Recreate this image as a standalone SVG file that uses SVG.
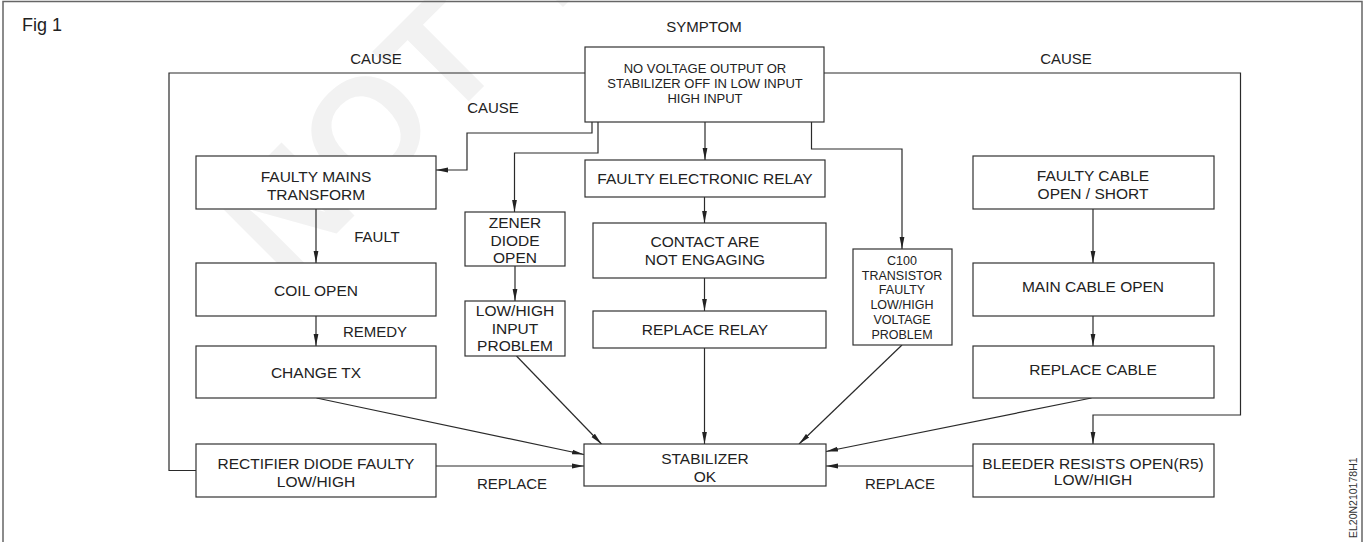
<svg xmlns="http://www.w3.org/2000/svg" width="1365" height="542" viewBox="0 0 1365 542">
  <defs>
    <marker id="arrow" viewBox="0 0 12 6" refX="12" refY="3" markerWidth="12" markerHeight="6" markerUnits="userSpaceOnUse" orient="auto">
      <path d="M0,0.6 L12,3 L0,5.4 Z" fill="#222"/>
    </marker>
    <style>
      .box { fill: #fff; stroke: #333; stroke-width: 1.2; }
      .wire { fill: none; stroke: #2a2a2a; stroke-width: 1.2; }
      .t { font-family: "Liberation Sans", Arial, sans-serif; font-size: 15.5px; fill: #222; text-anchor: middle; }
      .lbl { font-family: "Liberation Sans", Arial, sans-serif; font-size: 15px; fill: #222; text-anchor: middle; }
      .sm { font-size: 13px; }
      .xs { font-size: 12.5px; }
      .mark { font-family: "Liberation Sans", Arial, sans-serif; font-weight: bold; font-size: 150px; fill: #f2f2f2; }
    </style>
  </defs>

  <rect x="0" y="0" width="1365" height="542" fill="#fff"/>
  <!-- watermark -->
  <text class="mark" transform="translate(285,285) rotate(-45)">NOT T</text>

  <!-- frame -->
  <path d="M3,542 V1.5 H1362 V542" fill="none" stroke="#666" stroke-width="1.5"/>

  <text x="22" y="31" font-family="Liberation Sans, Arial, sans-serif" font-size="18" fill="#222">Fig 1</text>

  <!-- labels -->
  <g id="labels">
    <text class="lbl" x="704" y="32">SYMPTOM</text>
    <text class="lbl" x="376" y="64">CAUSE</text>
    <text class="lbl" x="1066" y="64">CAUSE</text>
    <text class="lbl" x="493" y="113">CAUSE</text>
    <text class="lbl" x="377" y="242">FAULT</text>
    <text class="lbl" x="375" y="337">REMEDY</text>
    <text class="lbl" x="512" y="489">REPLACE</text>
    <text class="lbl" x="900" y="489">REPLACE</text>
  </g>

  <!-- connectors -->
  <g id="connectors">
    <path class="wire" d="M585,73 H169 V470.5 H196"/>
    <path class="wire" d="M824,73 H1240.5 V415 H1093 V444" marker-end="url(#arrow)"/>
    <path class="wire" d="M592,122 V133 H467 V170 H436" marker-end="url(#arrow)"/>
    <path class="wire" d="M598,122 V153 H514.5 V212" marker-end="url(#arrow)"/>
    <path class="wire" d="M705,122 V160" marker-end="url(#arrow)" stroke-width="1.5"/>
    <path class="wire" d="M811.5,122 V149 H902 V249" marker-end="url(#arrow)"/>
    <path class="wire" d="M704.5,197 V223" marker-end="url(#arrow)" stroke-width="1.5"/>
    <path class="wire" d="M704.5,278 V311" marker-end="url(#arrow)" stroke-width="1.5"/>
    <path class="wire" d="M704.5,348 V444" marker-end="url(#arrow)" stroke-width="1.5"/>
    <path class="wire" d="M515,266 V301" marker-end="url(#arrow)"/>
    <path class="wire" d="M516.5,356 L601.5,444" marker-end="url(#arrow)"/>
    <path class="wire" d="M902,345 L799,444" marker-end="url(#arrow)"/>
    <path class="wire" d="M316,209 V263" marker-end="url(#arrow)"/>
    <path class="wire" d="M316,316 V346" marker-end="url(#arrow)"/>
    <path class="wire" d="M316.5,398 L584,454.5" marker-end="url(#arrow)"/>
    <path class="wire" d="M436,466 H584" marker-end="url(#arrow)"/>
    <path class="wire" d="M1093,209 V263" marker-end="url(#arrow)"/>
    <path class="wire" d="M1093,316 V346" marker-end="url(#arrow)"/>
    <path class="wire" d="M1091.5,398 L826,451.5" marker-end="url(#arrow)"/>
    <path class="wire" d="M973,466 H826" marker-end="url(#arrow)"/>
  </g>

  <g id="symptom">
    <rect class="box" x="585" y="47" width="239" height="75"/>
    <text class="t sm" x="705" y="73">NO VOLTAGE OUTPUT OR</text>
    <text class="t sm" x="705" y="88">STABILIZER OFF IN LOW INPUT</text>
    <text class="t sm" x="705" y="103">HIGH INPUT</text>
  </g>

  <g id="faulty-mains">
    <rect class="box" x="196" y="156" width="240" height="53"/>
    <text class="t" x="316" y="182">FAULTY MAINS</text>
    <text class="t" x="316" y="200">TRANSFORM</text>
  </g>
  <g id="coil-open">
    <rect class="box" x="196" y="263" width="240" height="53"/>
    <text class="t" x="316" y="296">COIL OPEN</text>
  </g>
  <g id="change-tx">
    <rect class="box" x="196" y="346" width="240" height="52"/>
    <text class="t" x="316" y="378">CHANGE TX</text>
  </g>
  <g id="rectifier">
    <rect class="box" x="196" y="444" width="240" height="53"/>
    <text class="t" x="316" y="469">RECTIFIER DIODE FAULTY</text>
    <text class="t" x="316" y="487">LOW/HIGH</text>
  </g>

  <g id="zener">
    <rect class="box" x="465" y="212" width="100" height="54"/>
    <text class="t" x="515" y="228">ZENER</text>
    <text class="t" x="515" y="245.5">DIODE</text>
    <text class="t" x="515" y="263">OPEN</text>
  </g>
  <g id="input-problem">
    <rect class="box" x="465" y="301" width="100" height="55"/>
    <text class="t" x="515" y="316">LOW/HIGH</text>
    <text class="t" x="515" y="333.5">INPUT</text>
    <text class="t" x="515" y="351">PROBLEM</text>
  </g>

  <g id="relay">
    <rect class="box" x="585" y="160" width="240" height="37"/>
    <text class="t" x="705" y="184">FAULTY ELECTRONIC RELAY</text>
  </g>
  <g id="contact">
    <rect class="box" x="593" y="223" width="233" height="55"/>
    <text class="t" x="705" y="247">CONTACT ARE</text>
    <text class="t" x="705" y="265">NOT ENGAGING</text>
  </g>
  <g id="replace-relay">
    <rect class="box" x="593" y="311" width="233" height="37"/>
    <text class="t" x="705" y="335">REPLACE RELAY</text>
  </g>
  <g id="stabilizer-ok">
    <rect class="box" x="584" y="444" width="242" height="42"/>
    <text class="t" x="705" y="464">STABILIZER</text>
    <text class="t" x="705" y="482">OK</text>
  </g>

  <g id="transistor">
    <rect class="box" x="853" y="249" width="99" height="96"/>
    <text class="t xs" x="902" y="264.5">C100</text>
    <text class="t xs" x="902" y="279.5">TRANSISTOR</text>
    <text class="t xs" x="902" y="294">FAULTY</text>
    <text class="t xs" x="902" y="309">LOW/HIGH</text>
    <text class="t xs" x="902" y="323.5">VOLTAGE</text>
    <text class="t xs" x="902" y="338.5">PROBLEM</text>
  </g>

  <g id="faulty-cable">
    <rect class="box" x="973" y="156" width="241" height="53"/>
    <text class="t" x="1093" y="181">FAULTY CABLE</text>
    <text class="t" x="1093" y="199">OPEN / SHORT</text>
  </g>
  <g id="main-cable">
    <rect class="box" x="973" y="263" width="241" height="53"/>
    <text class="t" x="1093" y="292">MAIN CABLE OPEN</text>
  </g>
  <g id="replace-cable">
    <rect class="box" x="973" y="346" width="241" height="52"/>
    <text class="t" x="1093" y="375">REPLACE CABLE</text>
  </g>
  <g id="bleeder">
    <rect class="box" x="973" y="444" width="241" height="53"/>
    <text class="t" x="1093" y="468.5">BLEEDER RESISTS OPEN(R5)</text>
    <text class="t" x="1093" y="485">LOW/HIGH</text>
  </g>

  <text transform="translate(1357,538) rotate(-90)" font-family="Liberation Sans, Arial, sans-serif" font-size="10.5" fill="#333">EL20N210178H1</text>
</svg>
